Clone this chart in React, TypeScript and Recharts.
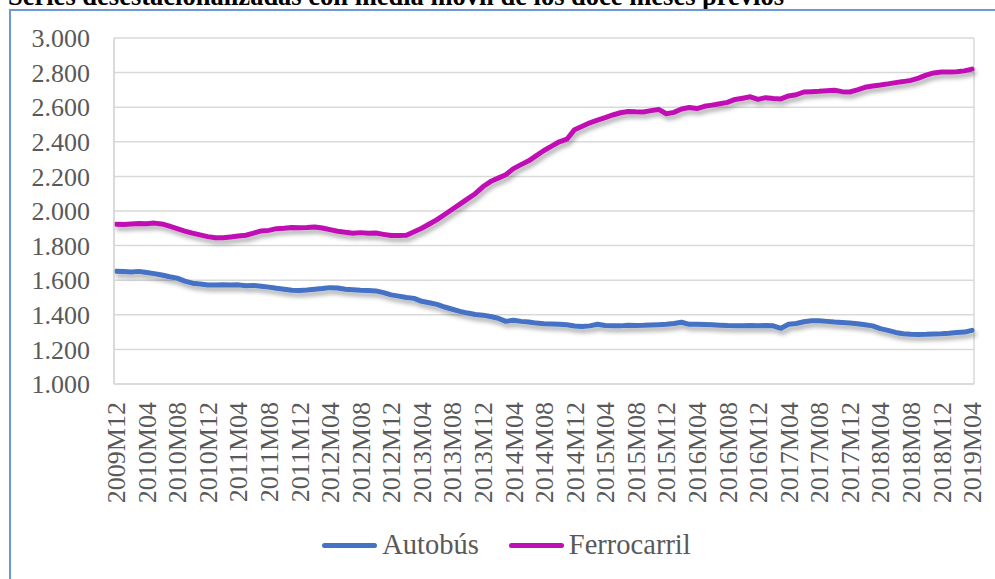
import { LineChart, Line, XAxis, YAxis, CartesianGrid, Legend } from 'recharts';

const font = '"Liberation Serif", "Times New Roman", serif';
const title = 'Series desestacionalizadas con media móvil de los doce meses previos';

// monthly categories 2009M12 .. 2019M04
const firstYear = 2009;
const firstMonth = 12;
const nMonths = 113;
const months = Array.from({ length: nMonths }, (_, i) => {
  const k = firstMonth - 1 + i;
  return `${firstYear + Math.floor(k / 12)}M${String((k % 12) + 1).padStart(2, '0')}`;
});

const autobus = [
  1652, 1650, 1648, 1651, 1645, 1638, 1630, 1620, 1612, 1595, 1583, 1578,
  1572, 1572, 1573, 1572, 1573, 1568, 1570, 1565, 1560, 1553, 1548, 1542,
  1540, 1543, 1548, 1552, 1557, 1555, 1548, 1545, 1542, 1540, 1538, 1528,
  1515, 1508, 1500, 1495, 1478, 1470, 1460, 1445, 1432, 1420, 1410, 1402,
  1398, 1390, 1380, 1362, 1368, 1362, 1358, 1352, 1348, 1347, 1345, 1342,
  1335, 1333, 1336, 1345, 1338, 1337, 1336, 1340, 1338, 1339, 1341, 1343,
  1345, 1350, 1357, 1345, 1346, 1344, 1342, 1340, 1338, 1337, 1336, 1338,
  1337, 1338, 1336, 1322, 1345, 1350, 1360, 1365, 1365, 1362, 1358, 1355,
  1352, 1348, 1342, 1336, 1320, 1310, 1298, 1290, 1287, 1286, 1287, 1289,
  1291, 1294, 1298, 1300, 1310,
];

const ferrocarril = [
  1923, 1922, 1925, 1928, 1926, 1930, 1925, 1912, 1898, 1884, 1872, 1862,
  1852, 1845, 1845, 1850, 1855, 1860, 1872, 1885, 1888, 1898, 1900, 1905,
  1903, 1905, 1908, 1902, 1892, 1883, 1877, 1872, 1875, 1872, 1873, 1865,
  1858, 1858, 1860, 1880, 1900, 1925, 1950, 1980, 2010, 2040, 2070, 2100,
  2140, 2170, 2190, 2210, 2245, 2268, 2290, 2320, 2350, 2375, 2400, 2415,
  2470, 2490, 2510, 2525, 2540, 2555, 2568, 2575, 2573, 2572, 2580, 2587,
  2562, 2570, 2590, 2598, 2592, 2605, 2612, 2620, 2628, 2645, 2652, 2660,
  2645, 2655, 2650, 2648, 2665, 2672, 2688, 2690, 2692, 2695, 2698, 2690,
  2688, 2700, 2715, 2722, 2728, 2735, 2742, 2748, 2755, 2768, 2785, 2798,
  2803, 2804, 2805, 2810, 2820,
];

const yTicks = [1000, 1200, 1400, 1600, 1800, 2000, 2200, 2400, 2600, 2800, 3000];

const seriesInfo = [
  { key: 'autobus', name: 'Autobús', color: '#4472C4' },
  { key: 'ferrocarril', name: 'Ferrocarril', color: '#C00FB4' },
];

const data = months.map((month, i) => ({
  month,
  autobus: autobus[i],
  ferrocarril: ferrocarril[i],
}));

const fmt = (v: number) => (v / 1000).toFixed(3);

const XTick = ({ x, y, payload }: any) => (
  <g transform={`translate(${x},${y})`}>
    <text
      transform="rotate(-90)"
      x={-18}
      y={0}
      dy="0.35em"
      textAnchor="end"
      fill="#595959"
      fontSize={26}
      fontFamily={font}
    >
      {payload.value}
    </text>
  </g>
);

const LegendBox = () => (
  <div
    style={{
      display: 'flex',
      justifyContent: 'center',
      alignItems: 'center',
      height: 40,
      marginLeft: 25,
      fontFamily: font,
      fontSize: 28.5,
      color: '#595959',
    }}
  >
    {seriesInfo.map((s, i) => (
      <div key={s.key} style={{ display: 'flex', alignItems: 'center', marginLeft: i ? 30 : 0 }}>
        <span style={{ width: 55, height: 5, borderRadius: 3, background: s.color, marginRight: 5 }} />
        <span>{s.name}</span>
      </div>
    ))}
  </div>
);

export default function App() {
  return (
    <div style={{ position: 'absolute', top: 0, left: 0, width: 995, height: 579, overflow: 'hidden', background: '#fff' }}>
      <div
        style={{
          position: 'absolute',
          top: -19,
          left: 8,
          fontFamily: font,
          fontWeight: 'bold',
          fontSize: 26.5,
          lineHeight: '30px',
          color: '#000',
          whiteSpace: 'nowrap',
        }}
      >
        {title}
      </div>
      <div
        style={{
          position: 'absolute',
          top: 9,
          left: 9,
          width: 1000,
          height: 600,
          border: '2px solid #7098D6',
          boxSizing: 'border-box',
        }}
      />
      <div style={{ position: 'absolute', top: 0, left: 0 }}>
        <LineChart width={995} height={579} data={data} margin={{ top: 38, right: 21, left: 14, bottom: 14 }}>
          <defs>
            <filter id="lineShadow" x="-5%" y="-20%" width="110%" height="160%">
              <feDropShadow dx="2" dy="4" stdDeviation="2" floodColor="#000" floodOpacity="0.3" />
            </filter>
          </defs>
          <CartesianGrid
            stroke="#d9d9d9"
            strokeWidth={1.5}
            verticalCoordinatesGenerator={({ offset }: any) => [offset.left, offset.left + offset.width]}
          />
          <XAxis
            dataKey="month"
            interval={3}
            tick={<XTick />}
            tickLine={false}
            tickSize={0}
            tickMargin={0}
            height={141}
            padding={{ left: 2, right: 2 }}
            axisLine={{ stroke: '#d9d9d9', strokeWidth: 1.5 }}
          />
          <YAxis
            domain={[1000, 3000]}
            ticks={yTicks}
            interval={0}
            tickFormatter={fmt}
            width={100}
            tickLine={false}
            tickSize={0}
            tickMargin={24}
            axisLine={{ stroke: '#d9d9d9', strokeWidth: 1.5 }}
            tick={{ fill: '#595959', fontSize: 26, fontFamily: font }}
          />
          <Legend verticalAlign="bottom" height={40} content={<LegendBox />} />
          {seriesInfo.map((s) => (
            <Line
              key={s.key}
              type="linear"
              dataKey={s.key}
              name={s.name}
              stroke={s.color}
              strokeWidth={5}
              strokeLinecap="round"
              strokeLinejoin="round"
              dot={false}
              filter="url(#lineShadow)"
              isAnimationActive={false}
            />
          ))}
        </LineChart>
      </div>
    </div>
  );
}
